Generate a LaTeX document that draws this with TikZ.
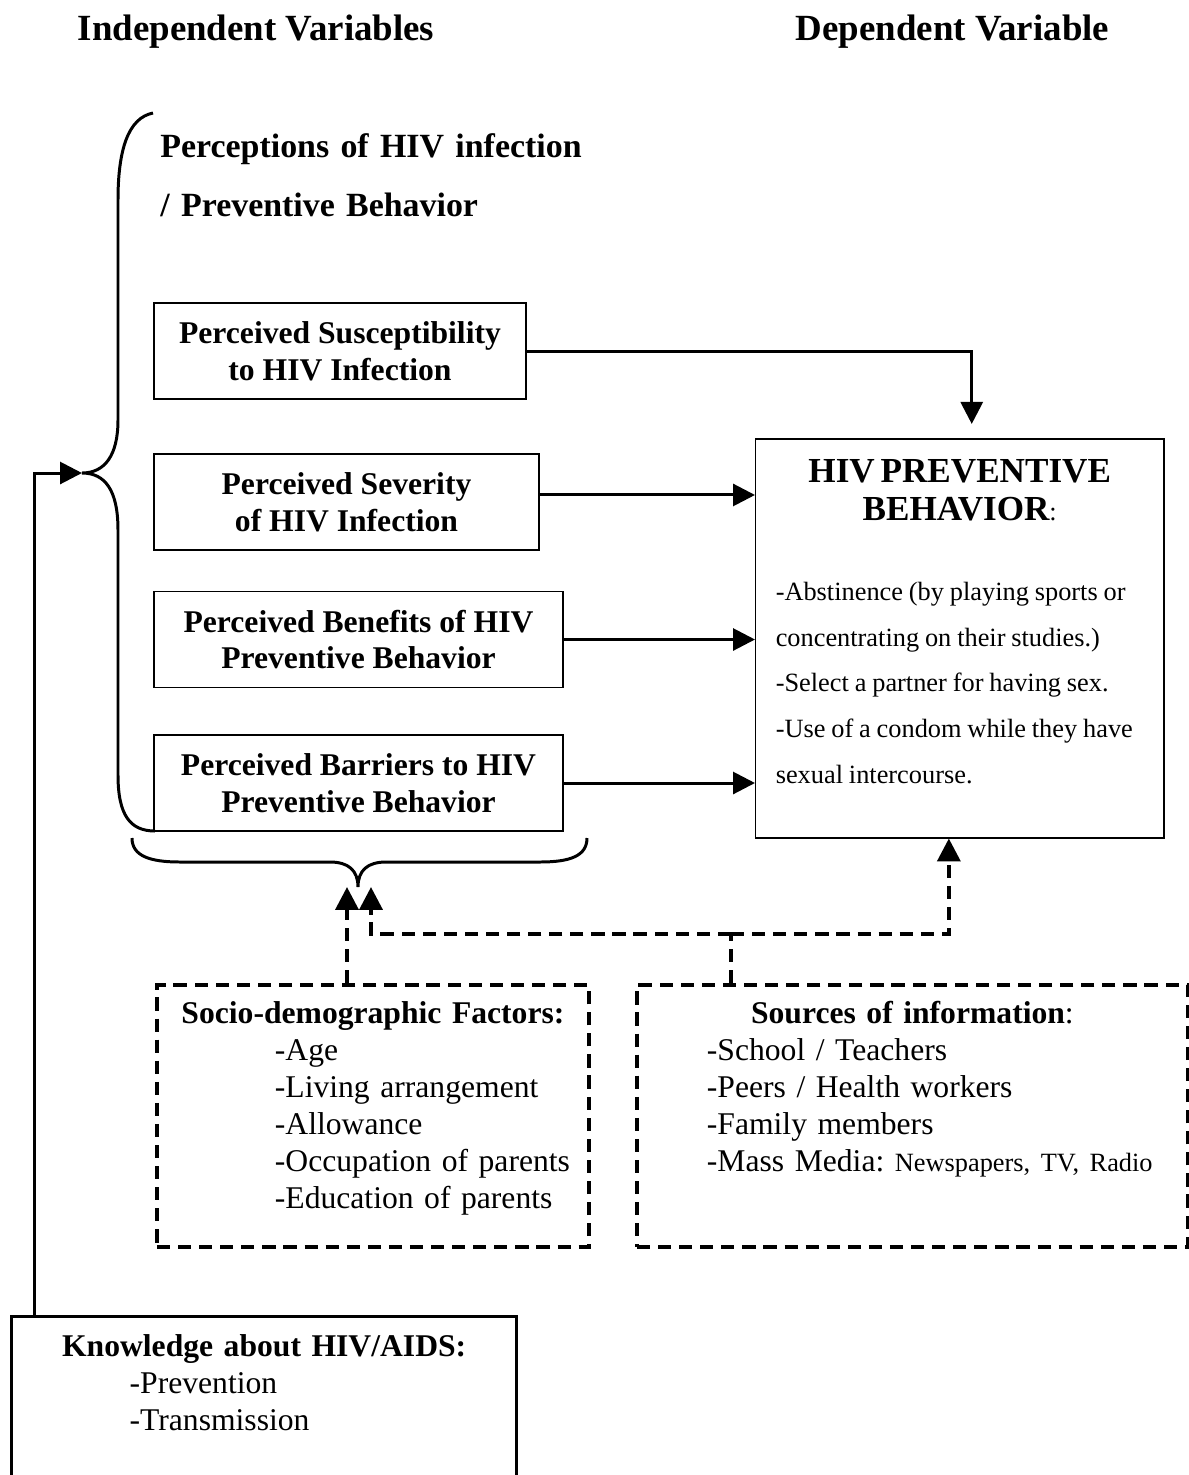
\documentclass[tikz,border=0pt]{standalone}
\usepackage{fontspec}
\setmainfont{Liberation Serif}
\usetikzlibrary{arrows.meta,positioning,calc}
\frenchspacing

% one pixel of the layout
\newlength{\pxu}
\setlength{\pxu}{0.02cm}

\newcommand{\headfont}{\fontsize{21}{25}\selectfont\bfseries}
\newcommand{\percfont}{\fontsize{19.3}{34}\selectfont\bfseries}
\newcommand{\boxfont}{\fontsize{18}{21}\selectfont\bfseries}
\newcommand{\listfont}{\fontsize{18}{21}\selectfont}
\newcommand{\hpbtitlefont}{\fontsize{20}{22}\selectfont\bfseries}
\newcommand{\hpbfont}{\fontsize{15}{26}\selectfont}

\begin{document}
\begin{tikzpicture}[x=0.02cm, y=-0.02cm,
    percbox/.style={rectangle, draw, line width=0.85pt, font=\boxfont, align=center, minimum height=96\pxu, inner sep=0},
    outbox/.style={rectangle, draw, line width=0.85pt, anchor=north west, inner sep=0},
    dline/.style={line width=2.2pt, dash pattern=on 7.5pt off 4.5pt},
    dashbox/.style={rectangle, draw, dline, anchor=north west, inner sep=0, font=\listfont},
    knbox/.style={rectangle, draw, line width=1.9pt, anchor=north west, inner sep=0, font=\listfont},
    arrow/.style={line width=1.7pt, -{Triangle[length=12.5pt,width=12.5pt]}},
    darrow/.style={dline, -{Triangle[length=13pt,width=13pt]}},
    brace/.style={line width=1.7pt}
]
\clip (0,0) rectangle (1189,1475);

% Column headings
\node[anchor=base, inner sep=0, font=\headfont] (indep) at (256,40) {Independent Variables};
\node[anchor=base, inner sep=0, font=\headfont] (dep) at (952.5,40) {Dependent Variable};

\node[anchor=base west, inner sep=0, text width=600\pxu, font=\percfont] (percept) at (160,157) {Perceptions of HIV infection\\/ Preventive Behavior};

% Perception boxes
\node[percbox, minimum width=372\pxu] (sus) at (340,351) {Perceived Susceptibility\\to HIV Infection};
\node[percbox, minimum width=385\pxu] (sev) at (346.5,502) {Perceived Severity\\of HIV Infection};
\node[percbox, minimum width=409\pxu] (ben) at (358.5,639.5) {Perceived Benefits of HIV\\Preventive Behavior};
\node[percbox, minimum width=409\pxu] (bar) at (358.5,783) {Perceived Barriers to HIV\\Preventive Behavior};

% Dependent variable
\node[outbox, text width=408\pxu, text height=43.5\pxu, text depth=355.5\pxu] (hpb) at (755,438) {%
  {\hpbtitlefont\centering HIV PREVENTIVE\\BEHAVIOR{\normalfont\fontsize{15}{22}\selectfont:}\par}%
  \vspace{34\pxu}%
  {\hpbfont\leftskip=20\pxu -Abstinence (by playing sports or\\concentrating on their studies.)\\-Select a partner for having sex.\\-Use of a condom while they have\\sexual intercourse.\par}};

% Other factors
\node[dashbox, text width=432\pxu, text height=39\pxu, text depth=223\pxu] (soc) at (155,983) {%
  {\centering\bfseries Socio-demographic Factors:\par}%
  {\leftskip=118\pxu -Age\\-Living arrangement\\-Allowance\\-Occupation of parents\\-Education of parents\par}};
\node[dashbox, text width=551\pxu, text height=39\pxu, text depth=223\pxu] (src) at (635,983) {%
  {\centering\textbf{Sources of information}:\par}%
  {\leftskip=70\pxu -School / Teachers\\-Peers / Health workers\\-Family members\\-Mass Media: {\fontsize{15}{21}\selectfont Newspapers, TV, Radio}\par}};
\node[knbox, text width=505\pxu, text height=40\pxu, text depth=300\pxu] (kn) at (10,1315) {%
  {\centering\bfseries Knowledge about HIV/AIDS:\par}%
  {\leftskip=118\pxu -Prevention\\-Transmission\par}};

% Braces
\coordinate (lbtip) at (82,473);
\coordinate (bbtip) at (358,887);
\draw[brace] (153,113) .. controls (128,118) and (118,150) .. (118,200) -- (118,420)
  .. controls (118,455) and (105,473) .. (lbtip)
  .. controls (105,473) and (118,490) .. (118,530) -- (118,775)
  .. controls (118,815) and (130,831) .. (155,831);
\draw[brace] (132,838) .. controls (132,856) and (150,862) .. (180,862) -- (330,862)
  .. controls (348,862) and (358,870) .. (bbtip)
  .. controls (358,870) and (368,862) .. (386,862) -- (540,862)
  .. controls (570,862) and (587,856) .. (587,838);

% Arrows
\draw[arrow, shorten >=8pt] (sus.east) -| ($(hpb.north)+(12,0)$);
\draw[arrow] ([yshift=4pt]sev.east) -- ([yshift=4pt]sev.east -| hpb.west);
\draw[arrow] (ben.east) -- (ben.east -| hpb.west);
\draw[arrow] (bar.east) -- (bar.east -| hpb.west);
\draw[arrow] ([xshift=14.2pt]kn.north west) |- (lbtip);

\coordinate (tipL) at (347,887);
\coordinate (tipR) at (371,887);
\coordinate (srcjoin) at (731,934);
\draw[darrow] (tipL |- soc.north) -- (tipL);
\draw[dline] (srcjoin |- src.north) -- (srcjoin);
\draw[darrow] (srcjoin) -| (tipR);
\draw[darrow] (srcjoin) -| ([xshift=-6.2pt]hpb.south);

\end{tikzpicture}
\end{document}
